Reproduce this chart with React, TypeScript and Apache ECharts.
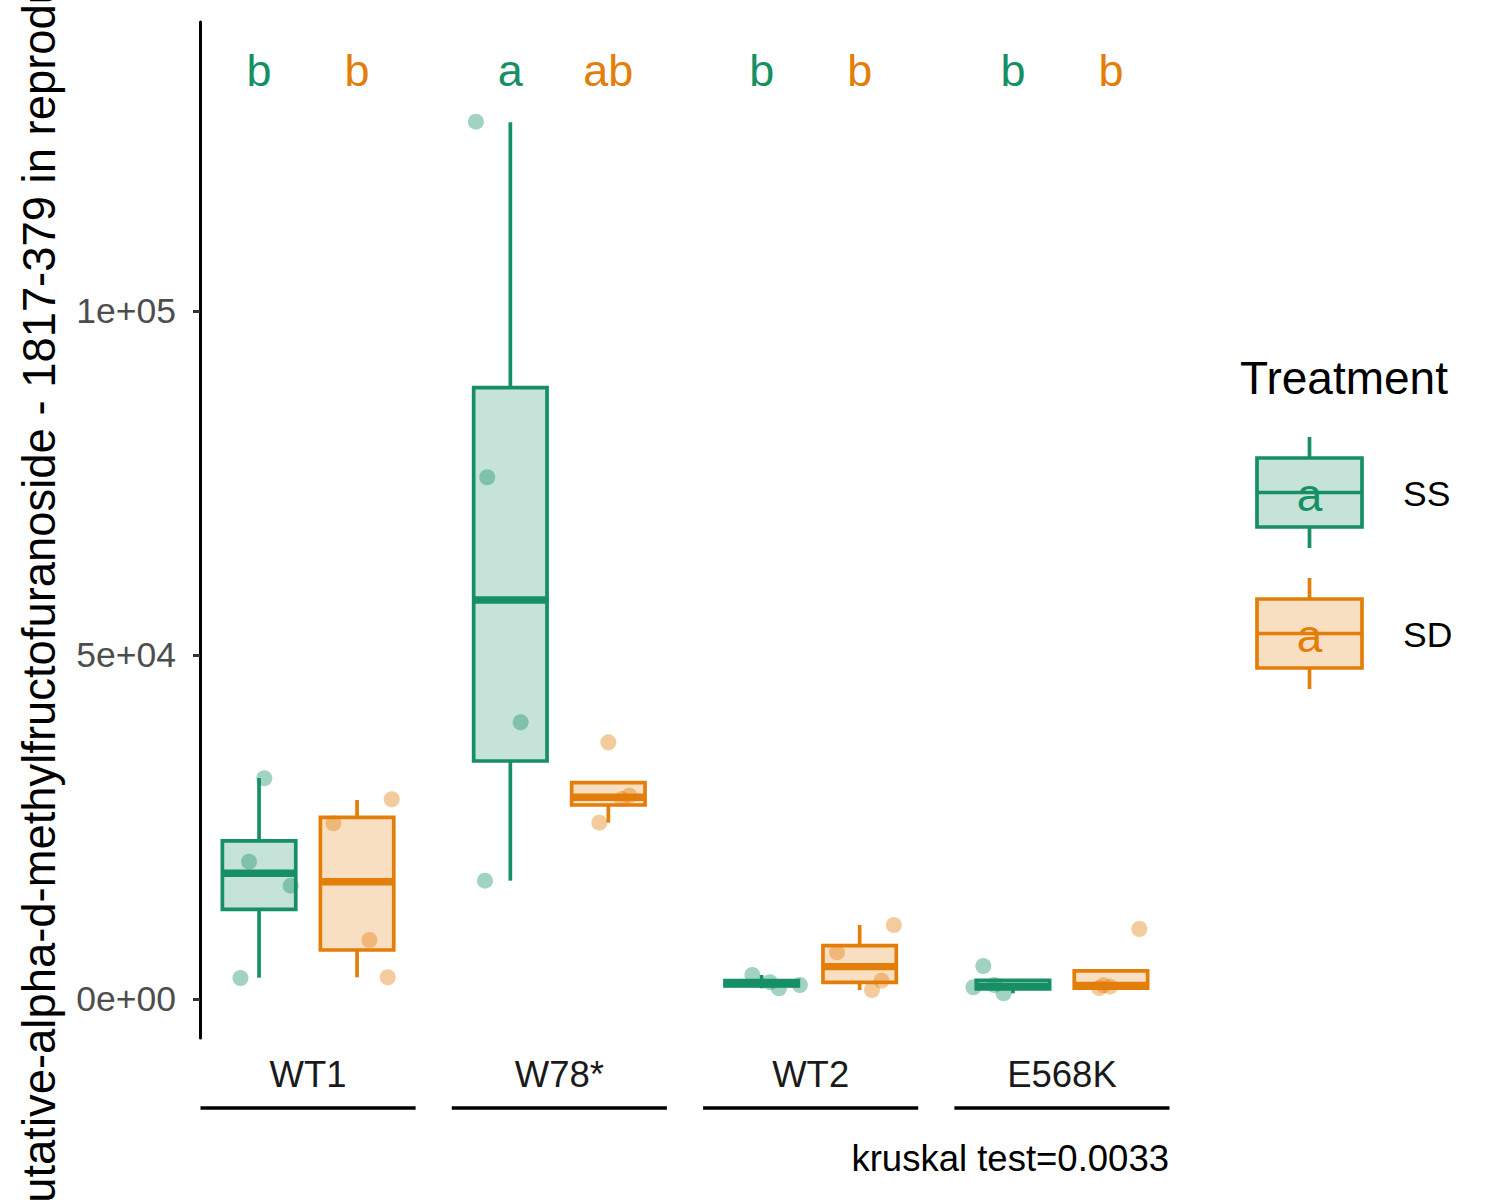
import React, { useEffect, useRef } from "react";
import * as echarts from "echarts";

// ---------- data ----------
const categories = ["WT1", "W78*", "WT2", "E568K"];
const treatments = ["SS", "SD"];
const treatmentColors = ["#168F64", "#E37E0A"];
const treatmentFills = ["rgba(22,143,100,0.25)", "rgba(227,126,10,0.25)"];
const treatmentPointColors = ["rgba(22,143,100,0.5)", "rgba(227,126,10,0.5)"];

const yTickValues = [0, 50000, 100000];
const yTickLabels = ["0e+00", "5e+04", "1e+05"];

// box statistics per genotype
const ssLowerWhisker = [3100, 17200, 1555, 830];
const ssQ1 = [13040, 34590, 1920, 1480];
const ssMedian = [18270, 58000, 2240, 1870];
const ssQ3 = [22970, 88850, 2670, 2725];
const ssUpperWhisker = [32120, 127430, 3490, 2725];

const sdLowerWhisker = [3150, 25630, 1310, 1300];
const sdQ1 = [7120, 28200, 2430, 1585];
const sdMedian = [17050, 29320, 4700, 1960];
const sdQ3 = [26410, 31440, 7750, 4085];
const sdUpperWhisker = [28930, 31440, 10760, 4085];

// jittered sample points
const ssPointGroup = [0, 0, 0, 0, 1, 1, 1, 1, 2, 2, 2, 2, 3, 3, 3, 3];
const ssPointJitter = [0.021, -0.04, 0.126, -0.074, -0.137, -0.092, 0.041, -0.101, -0.037, 0.069, 0.152, 0.033, -0.118, -0.157, -0.074, -0.037];
const ssPointValue = [32080, 19960, 16470, 3050, 127520, 75830, 40220, 17200, 3490, 1555, 2035, 2450, 4800, 1700, 2035, 830];

const sdPointGroup = [0, 0, 0, 0, 1, 1, 1, 1, 2, 2, 2, 2, 3, 3, 3, 3];
const sdPointJitter = [0.138, -0.094, 0.049, 0.122, 0.0, 0.083, 0.054, -0.036, 0.136, -0.09, 0.087, 0.049, 0.113, -0.03, -0.004, -0.047];
const sdPointValue = [29030, 25540, 8575, 3155, 37310, 29570, 29060, 25630, 10760, 6790, 2660, 1310, 10180, 1990, 1795, 1600];

// significance letters
const ssLetters = ["b", "a", "b", "b"];
const sdLetters = ["b", "ab", "b", "b"];
const letterValue = 135000;

const yTitle = "putative-alpha-d-methylfructofuranoside - 1817-379 in reproductive";
const caption = "kruskal test=0.0033";
const legendTitle = "Treatment";
const legendKeyLetter = "a";

// ---------- layout ----------
const FONT = '"Liberation Sans", Arial, Helvetica, sans-serif';
const X_MIN = -0.43;
const X_MAX = 3.43;
const Y_MIN = -5669;
const Y_MAX = 142006;
const DODGE = [-0.195, 0.195];
const BOX_HALF = 0.146;
const STRIP_HALF = 0.428;
const LW = 3.7;

const lowerW = [ssLowerWhisker, sdLowerWhisker];
const q1s = [ssQ1, sdQ1];
const medians = [ssMedian, sdMedian];
const q3s = [ssQ3, sdQ3];
const upperW = [ssUpperWhisker, sdUpperWhisker];
const pointGroups = [ssPointGroup, sdPointGroup];
const pointJitters = [ssPointJitter, sdPointJitter];
const pointValues = [ssPointValue, sdPointValue];
const letters = [ssLetters, sdLetters];

function boxSeries(k: number) {
  const data = categories.map((_, i) => [i, lowerW[k][i], q1s[k][i], medians[k][i], q3s[k][i], upperW[k][i]]);
  const color = treatmentColors[k];
  return {
    type: "custom",
    name: treatments[k] + " box",
    data,
    encode: { x: 0, y: [1, 2, 3, 4, 5] },
    z: 2,
    silent: true,
    clip: false,
    renderItem: (params: any, api: any) => {
      const cx = api.value(0) + DODGE[k];
      const halfW = api.size([BOX_HALF, 0])[0];
      const pLow = api.coord([cx, api.value(1)]);
      const pQ1 = api.coord([cx, api.value(2)]);
      const pMed = api.coord([cx, api.value(3)]);
      const pQ3 = api.coord([cx, api.value(4)]);
      const pUp = api.coord([cx, api.value(5)]);
      const children: any[] = [];
      if (pUp[1] < pQ3[1] - 0.5) {
        children.push({ type: "line", shape: { x1: pUp[0], y1: pUp[1], x2: pQ3[0], y2: pQ3[1] }, style: { stroke: color, lineWidth: LW } });
      }
      if (pLow[1] > pQ1[1] + 0.5) {
        children.push({ type: "line", shape: { x1: pQ1[0], y1: pQ1[1], x2: pLow[0], y2: pLow[1] }, style: { stroke: color, lineWidth: LW } });
      }
      children.push({
        type: "rect",
        shape: { x: pQ3[0] - halfW, y: pQ3[1], width: 2 * halfW, height: pQ1[1] - pQ3[1] },
        style: { fill: treatmentFills[k], stroke: color, lineWidth: LW },
      });
      children.push({
        type: "line",
        shape: { x1: pMed[0] - halfW, y1: pMed[1], x2: pMed[0] + halfW, y2: pMed[1] },
        style: { stroke: color, lineWidth: LW * 2, lineCap: "butt" },
      });
      return { type: "group", children };
    },
  };
}

function pointSeries(k: number) {
  return {
    type: "scatter",
    name: treatments[k],
    data: pointGroups[k].map((g, j) => [g + DODGE[k] + pointJitters[k][j], pointValues[k][j]]),
    symbol: "circle",
    symbolSize: 16,
    itemStyle: { color: treatmentPointColors[k] },
    z: 3,
    silent: true,
  };
}

function letterSeries(k: number) {
  return {
    type: "custom",
    name: treatments[k] + " letters",
    data: categories.map((_, i) => [i, letterValue]),
    encode: { x: 0, y: 1 },
    z: 4,
    silent: true,
    clip: false,
    renderItem: (params: any, api: any) => {
      const p = api.coord([api.value(0) + DODGE[k], api.value(1)]);
      return {
        type: "text",
        x: p[0],
        y: p[1],
        style: {
          text: letters[k][params.dataIndex],
          fill: treatmentColors[k],
          fontSize: 45,
          fontFamily: FONT,
          align: "center",
          verticalAlign: "middle",
        },
      };
    },
  };
}

const stripSeries = {
  type: "custom",
  name: "strips",
  data: categories.map((_, i) => [i, Y_MIN]),
  encode: { x: 0, y: 1 },
  silent: true,
  clip: false,
  renderItem: (params: any, api: any) => {
    const pL = api.coord([api.value(0) - STRIP_HALF, api.value(1)]);
    const pR = api.coord([api.value(0) + STRIP_HALF, api.value(1)]);
    const y = pL[1] + 70;
    return { type: "line", shape: { x1: pL[0], y1: y, x2: pR[0], y2: y }, style: { stroke: "#000", lineWidth: 3.5 } };
  },
};

function legendGraphics() {
  const els: any[] = [
    {
      type: "text",
      x: 1240,
      y: 378,
      style: { text: legendTitle, fill: "#000", fontSize: 46, fontFamily: FONT, align: "left", verticalAlign: "middle" },
    },
  ];
  treatments.forEach((t, k) => {
    const top = 458 + k * 141;
    const h = 69;
    const left = 1257;
    const w = 105;
    const cx = left + w / 2;
    els.push({ type: "line", shape: { x1: cx, y1: top - 21, x2: cx, y2: top }, style: { stroke: treatmentColors[k], lineWidth: LW } });
    els.push({ type: "line", shape: { x1: cx, y1: top + h, x2: cx, y2: top + h + 21 }, style: { stroke: treatmentColors[k], lineWidth: LW } });
    els.push({ type: "rect", shape: { x: left, y: top, width: w, height: h }, style: { fill: treatmentFills[k], stroke: treatmentColors[k], lineWidth: LW } });
    els.push({ type: "line", shape: { x1: left, y1: top + h / 2, x2: left + w, y2: top + h / 2 }, style: { stroke: treatmentColors[k], lineWidth: LW } });
    els.push({
      type: "text",
      x: cx,
      y: top + h / 2 + 2,
      style: { text: legendKeyLetter, fill: treatmentColors[k], fontSize: 46, fontFamily: FONT, align: "center", verticalAlign: "middle" },
    });
    els.push({
      type: "text",
      x: 1403,
      y: top + h / 2 + 1,
      style: { text: t, fill: "#000", fontSize: 35.5, fontFamily: FONT, align: "left", verticalAlign: "middle" },
    });
  });
  return els;
}

const option: any = {
  animation: false,
  backgroundColor: "#fff",
  textStyle: { fontFamily: FONT },
  grid: { left: 200, right: 330, top: 22, bottom: 162, containLabel: false },
  xAxis: {
    type: "value",
    min: X_MIN,
    max: X_MAX,
    axisLine: { show: false },
    axisTick: { show: false },
    splitLine: { show: false },
    axisLabel: {
      customValues: categories.map((_, i) => i),
      formatter: (v: number) => categories[Math.round(v)] ?? "",
      fontSize: 36.5,
      color: "#1A1A1A",
      fontFamily: FONT,
      margin: 18,
    },
  },
  yAxis: {
    type: "value",
    min: Y_MIN,
    max: Y_MAX,
    axisLine: { show: true, onZero: false, lineStyle: { color: "#000", width: 3 } },
    axisTick: { show: true, customValues: yTickValues, length: 7, lineStyle: { color: "#333", width: 3 } },
    splitLine: { show: false },
    axisLabel: {
      customValues: yTickValues,
      formatter: (v: number) => {
        const idx = yTickValues.indexOf(v);
        return idx >= 0 ? yTickLabels[idx] : "";
      },
      fontSize: 35.5,
      color: "#4D4D4D",
      fontFamily: FONT,
      margin: 24,
    },
  },
  series: [stripSeries, boxSeries(0), boxSeries(1), pointSeries(0), pointSeries(1), letterSeries(0), letterSeries(1)],
  graphic: [
    {
      type: "text",
      x: 39,
      y: 1228,
      rotation: Math.PI / 2,
      style: { text: yTitle, fill: "#000", fontSize: 45.4, fontFamily: FONT, align: "left", verticalAlign: "middle" },
    },
    {
      type: "text",
      x: 1169,
      y: 1158,
      style: { text: caption, fill: "#000", fontSize: 36.5, fontFamily: FONT, align: "right", verticalAlign: "middle" },
    },
    ...legendGraphics(),
  ],
};

export default function App() {
  const ref = useRef<HTMLDivElement>(null);
  useEffect(() => {
    document.body.style.margin = "0";
    const chart = echarts.init(ref.current as HTMLDivElement, null, { renderer: "svg" });
    chart.setOption(option);
    return () => chart.dispose();
  }, []);
  return <div ref={ref} style={{ width: 1500, height: 1200 }} />;
}
